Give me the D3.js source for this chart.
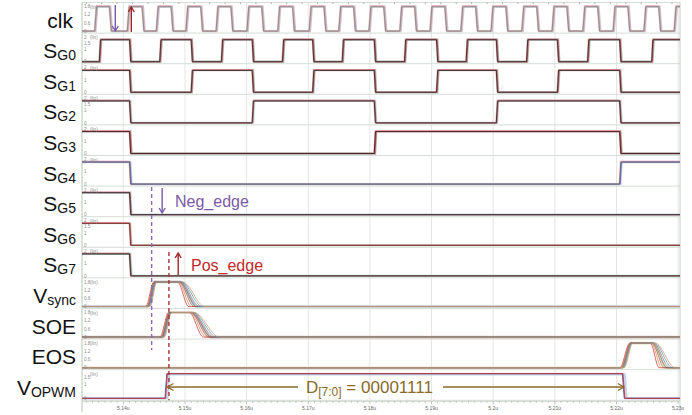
<!DOCTYPE html>
<html>
<head>
<meta charset="utf-8">
<script src="https://cdn.jsdelivr.net/npm/d3@7"></script>
<style>
  body { margin: 0; background: #fff; }
  svg { display: block; font-family: "Liberation Sans", Arial, sans-serif; }
</style>
</head>
<body>
<div id="chart"></div>
<script>
// ---------------------------------------------------------------
// Data (times in ns, levels in V)
const tStart = 5133.3;
const tEnd = 5230.3;
const HIGH = 1.8;

const axisTicks = [5140, 5150, 5160, 5170, 5180, 5190, 5200, 5210, 5220, 5230];
const axisLabels = ['5.14u', '5.15u', '5.16u', '5.17u', '5.18u', '5.19u', '5.2u', '5.21u', '5.22u', '5.23u'];

const rowMain = ['clk', 'S', 'S', 'S', 'S', 'S', 'S', 'S', 'S', 'V', 'SOE', 'EOS', 'V'];
const rowSub = ['', 'G0', 'G1', 'G2', 'G3', 'G4', 'G5', 'G6', 'G7', 'sync', '', '', 'OPWM'];
const rowTicks = [
  [0, 0.6, 1.2, 1.8], [0, 1, 1.5, 2], [0, 1, 2], [0, 1, 1.5, 2], [0, 1, 2], [0, 1, 2],
  [0, 1, 2], [0, 1, 1.5, 2], [0, 1, 2], [0, 0.6, 1.2, 1.8], [0, 0.6, 1.2, 1.8],
  [0, 0.6, 1.2, 1.8], [0, 1, 1.5]
];
const rowMax = [1.8, 2, 2, 2, 2, 2, 2, 2, 2, 1.8, 1.8, 1.8, 1.8];

// Transition times, each signal alternates level starting from its initial value.
const clkEdges = [
  5135.5, 5137.9, 5140.8, 5143.2, 5145.5, 5147.9, 5150.3, 5152.7, 5155.2, 5157.6,
  5160.2, 5162.6, 5165.2, 5167.6, 5170.3, 5172.7, 5175.1, 5177.5, 5180.0, 5182.4,
  5185.0, 5187.4, 5189.9, 5192.3, 5194.9, 5197.3, 5199.8, 5202.2, 5204.8, 5207.2,
  5209.7, 5212.1, 5214.7, 5217.1, 5219.6, 5222.0, 5224.6, 5227.0, 5229.5
];
const sg0Edges = [
  5136.2, 5141.1, 5146.0, 5151.1, 5156.0, 5161.0, 5165.9, 5170.8, 5175.6, 5180.8,
  5185.7, 5190.9, 5195.7, 5200.6, 5205.5, 5210.5, 5215.4, 5220.6, 5225.8
];
const sg1Edges = [5141.1, 5151.1, 5161.0, 5170.8, 5180.8, 5190.9, 5200.6, 5210.5, 5220.6];
const sg2Edges = [5141.1, 5161.0, 5180.8, 5200.6, 5220.6];
const sg3Edges = [5141.1, 5180.8, 5220.6];
const sg4Edges = [5141.1, 5220.6];
const sg5Edges = [5141.1];
const sg6Edges = [5141.1];
const sg7Edges = [5141.1];
const digitalInit = [0, 0, 1, 1, 1, 1, 1, 1, 1];

// Pulses: rise start, rise end, fall start, fall end
const vsyncPulse = [5144.0, 5145.2, 5149.2, 5151.9];
const soePulse = [5146.3, 5147.6, 5151.1, 5154.3];
const eosPulse = [5220.9, 5222.4, 5225.9, 5228.2];
// VOPWM: rise, fall
const vopwmEdges = [5147.0, 5221.2];

// ---------------------------------------------------------------
const W = 692, H = 415;
const plotL = 82, plotR = 680;
const rowTop0 = 2.5, rowH = 30.6;
const rowTop = i => rowTop0 + i * rowH;
const plotB = rowTop(13);

const tints = ['#c4bccc', '#a8a8a8', '#aeaeae', '#bccadb', '#a89494', '#bac6dc',
  '#b6c4d4', '#c2dece', '#aad8d2', '#c8c8c8', '#d6bcb2', '#ebe0b4', '#dac8ea'];
const mains = ['#8c8c8c', '#3a3a3a', '#3a3a3a', '#3a3a3a', '#4a2a2a', '#6a6a7a',
  '#3a3a3a', '#7a3a3a', '#3a3a3a', '#666', '#666', '#666', '#666'];
const edgeCols = ['#d8a0a0', '#c8322c', '#c8322c', '#b83a3a', '#c8322c', '#5a58b0',
  '#a03030', '#d03030', '#9a3a3a'];
const mcSpread = [-1, -0.66, -0.33, 0, 0.33, 0.66, 1];
const mcColors = ['#c8302c', '#e07a58', '#8a5a3a', '#707070', '#8a70b0', '#4aa2a6', '#d4946a'];

const x = d3.scaleLinear().domain([tStart, tEnd]).range([plotL, plotR]);

const svg = d3.select('#chart').append('svg')
  .attr('width', W).attr('height', H);

svg.append('defs').append('clipPath').attr('id', 'plotClip')
  .append('rect').attr('x', plotL).attr('y', 0).attr('width', plotR - plotL).attr('height', plotB);
svg.select('defs').append('clipPath').attr('id', 'axisClip')
  .append('rect').attr('x', 0).attr('y', 0).attr('width', 684).attr('height', H);

// Vertical grid at major ticks.
svg.append('g').selectAll('line').data(axisTicks).enter().append('line')
  .attr('x1', d => x(d)).attr('x2', d => x(d))
  .attr('y1', rowTop0).attr('y2', plotB)
  .attr('stroke', '#e4e6e4').attr('stroke-width', 1);

// Panel separators.
svg.append('g').selectAll('line').data(d3.range(14)).enter().append('line')
  .attr('x1', plotL).attr('x2', plotR)
  .attr('y1', i => rowTop(i)).attr('y2', i => rowTop(i))
  .attr('stroke', '#d6ddd6').attr('stroke-width', 1);

svg.append('line').attr('x1', plotL).attr('x2', plotL).attr('y1', rowTop0).attr('y2', plotB + 12)
  .attr('stroke', '#b4c8b4');
svg.append('line').attr('x1', plotR).attr('x2', plotR).attr('y1', rowTop0).attr('y2', plotB + 12)
  .attr('stroke', '#c8d0c8');

function digitalPoints(edges, init, tr, dt) {
  let lvl = init;
  const pts = [[tStart, lvl * HIGH]];
  edges.forEach(t => {
    pts.push([t + dt - tr / 2, lvl * HIGH]);
    lvl = 1 - lvl;
    pts.push([t + dt + tr / 2, lvl * HIGH]);
  });
  pts.push([tEnd, lvl * HIGH]);
  return pts;
}

function pulsePoints(p, k) {
  return [[tStart, 0], [p[0] + k * 0.35, 0], [p[1] + k * 0.25, HIGH],
    [p[2] + k * 0.4, HIGH], [p[3] + k * 1.3, 0], [tEnd, 0]];
}

const plotG = svg.append('g').attr('clip-path', 'url(#plotClip)');
const digitalEdges = [clkEdges, sg0Edges, sg1Edges, sg2Edges, sg3Edges, sg4Edges, sg5Edges, sg6Edges, sg7Edges];
const pulses = [vsyncPulse, soePulse, eosPulse];

rowMain.forEach((name, i) => {
  const top = rowTop(i);
  const y = d3.scaleLinear().domain([0, rowMax[i]]).range([top + rowH - 2, top + 4]);
  const line = d3.line().x(d => x(d[0])).y(d => y(d[1]));

  // Tiny y tick labels and the "(lin)" tag.
  const tg = svg.append('g').attr('font-size', 4.6).attr('fill', '#8c8c8c');
  tg.selectAll('text').data(rowTicks[i]).enter().append('text')
    .attr('x', 84).attr('y', d => y(d) + 1.6).text(d => d);
  tg.append('text').attr('x', 90).attr('y', top + 6).text('(lin)');

  const g = plotG.append('g');
  if (i < 9) {
    const tr = i === 0 ? 0.3 : 0.2;
    const styles = [
      { dt: 0.12, sc: 1, color: tints[i], w: 2.4, op: 0.85 },
      { dt: -0.08, sc: 1.03, color: i === 0 ? '#eab4bc' : '#f0a2a8', w: 1, op: 0.9 },
      { dt: 0.1, sc: 1, color: edgeCols[i], w: 0.9, op: 0.9 },
      { dt: 0, sc: 0.99, color: mains[i], w: 1, op: 1 }
    ];
    styles.forEach(s => {
      const pts = digitalPoints(digitalEdges[i], digitalInit[i], tr, s.dt)
        .map(p => [p[0], p[1] * s.sc]);
      g.append('path').attr('d', line(pts)).attr('fill', 'none')
        .attr('stroke', s.color).attr('stroke-width', s.w).attr('opacity', s.op);
    });
  } else if (i < 12) {
    const p = pulses[i - 9];
    const curve = d3.line().x(d => x(d[0])).y(d => y(d[1])).curve(d3.curveMonotoneX);
    g.append('path').attr('d', curve(pulsePoints(p, 0))).attr('fill', 'none')
      .attr('stroke', tints[i]).attr('stroke-width', 2.6);
    mcSpread.forEach((k, j) => {
      g.append('path').attr('d', curve(pulsePoints(p, k))).attr('fill', 'none')
        .attr('stroke', mcColors[j]).attr('stroke-width', 0.9).attr('opacity', 0.8);
    });
  } else {
    const styles = [
      { dt: 0.3, sc: 0.97, color: '#a6dce4', w: 2 },
      { dt: 0.15, sc: 1, color: tints[i], w: 2 },
      { dt: -0.1, sc: 1, color: '#3a5aa8', w: 1 },
      { dt: 0, sc: 1, color: '#c8322c', w: 1 }
    ];
    styles.forEach(s => {
      const pts = digitalPoints(vopwmEdges, 0, 0.3, s.dt).map(q => [q[0], q[1] * s.sc]);
      g.append('path').attr('d', line(pts)).attr('fill', 'none')
        .attr('stroke', s.color).attr('stroke-width', s.w).attr('opacity', 0.9);
    });
  }

  // Row label with subscript.
  const lab = svg.append('text')
    .attr('x', i === 0 ? 73 : 76).attr('y', top + 25)
    .attr('text-anchor', 'end').attr('font-size', 21).attr('fill', '#111');
  lab.append('tspan').text(name);
  if (rowSub[i]) lab.append('tspan').attr('font-size', 14).attr('dy', 2).text(rowSub[i]);
});

// Top minor ticks on the first strip.
svg.append('g').selectAll('line').data(d3.range(5134, 5231, 2.5)).enter().append('line')
  .attr('x1', d => x(d)).attr('x2', d => x(d)).attr('y1', rowTop0).attr('y2', rowTop0 + 1.5)
  .attr('stroke', '#aaa');

// Bottom time axis.
const axG = svg.append('g').attr('clip-path', 'url(#axisClip)');
axG.append('line').attr('x1', plotL).attr('x2', plotR).attr('y1', plotB + 1).attr('y2', plotB + 1)
  .attr('stroke', '#cfd6cf');
axG.selectAll('line.minor').data(d3.range(5134, 5231, 1)).enter().append('line')
  .attr('class', 'minor')
  .attr('x1', d => x(d)).attr('x2', d => x(d))
  .attr('y1', plotB + 1).attr('y2', d => plotB + (d % 10 === 0 ? 4 : 2.5))
  .attr('stroke', '#9a9a9a').attr('stroke-width', 0.6);
axG.selectAll('text').data(axisTicks).enter().append('text')
  .attr('x', d => x(d)).attr('y', plotB + 10)
  .attr('text-anchor', 'middle').attr('font-size', 5).attr('fill', '#666')
  .text((d, i) => axisLabels[i]);

// ---------------------------------------------------------------
// Annotations.
const purple = '#7a5aa8', red = '#c4282c', darkRed = '#a83434', olive = '#8a6a2a';

function arrow(xp, y1, y2, color) {
  const dir = y2 > y1 ? 1 : -1;
  svg.append('line').attr('x1', xp).attr('x2', xp).attr('y1', y1).attr('y2', y2)
    .attr('stroke', color).attr('stroke-width', 1.4);
  svg.append('path')
    .attr('d', `M${xp - 3},${y2 - dir * 5}L${xp},${y2}L${xp + 3},${y2 - dir * 5}`)
    .attr('fill', 'none').attr('stroke', color).attr('stroke-width', 1.4);
}

arrow(x(5138.7), 5, 31, purple);
arrow(x(5141.3), 32, 7, '#a02424');

svg.append('line').attr('x1', x(5144.6)).attr('x2', x(5144.6)).attr('y1', 187).attr('y2', 350)
  .attr('stroke', '#8a6ab8').attr('stroke-width', 1.4).attr('stroke-dasharray', '4,3');
svg.append('line').attr('x1', x(5147.4)).attr('x2', x(5147.4)).attr('y1', 252).attr('y2', plotB)
  .attr('stroke', darkRed).attr('stroke-width', 1.4).attr('stroke-dasharray', '4,3');

arrow(x(5146.3), 188, 213, purple);
svg.append('text').attr('x', 175).attr('y', 207).attr('font-size', 16).attr('fill', purple)
  .text('Neg_edge');
arrow(x(5148.9), 275, 253, '#a02424');
svg.append('text').attr('x', 191).attr('y', 271).attr('font-size', 16).attr('fill', red)
  .text('Pos_edge');

// D[7:0] measurement.
const dY = 387;
const dx1 = x(vopwmEdges[0]) + 1, dx2 = x(vopwmEdges[1]);
svg.append('line').attr('x1', dx1).attr('x2', 298).attr('y1', dY).attr('y2', dY)
  .attr('stroke', olive).attr('stroke-width', 1.3);
svg.append('line').attr('x1', 443).attr('x2', dx2).attr('y1', dY).attr('y2', dY)
  .attr('stroke', olive).attr('stroke-width', 1.3);
svg.append('path').attr('d', `M${dx1 + 6},${dY - 3.5}L${dx1},${dY}L${dx1 + 6},${dY + 3.5}`)
  .attr('fill', 'none').attr('stroke', olive).attr('stroke-width', 1.3);
svg.append('path').attr('d', `M${dx2 - 6},${dY - 3.5}L${dx2},${dY}L${dx2 - 6},${dY + 3.5}`)
  .attr('fill', 'none').attr('stroke', olive).attr('stroke-width', 1.3);
const dt = svg.append('text').attr('x', 306).attr('y', 393).attr('font-size', 17).attr('fill', olive);
dt.append('tspan').text('D');
dt.append('tspan').attr('font-size', 12).attr('dy', 3).text('[7:0]');
dt.append('tspan').attr('dy', -3).text(' = 00001111');
</script>
</body>
</html>
